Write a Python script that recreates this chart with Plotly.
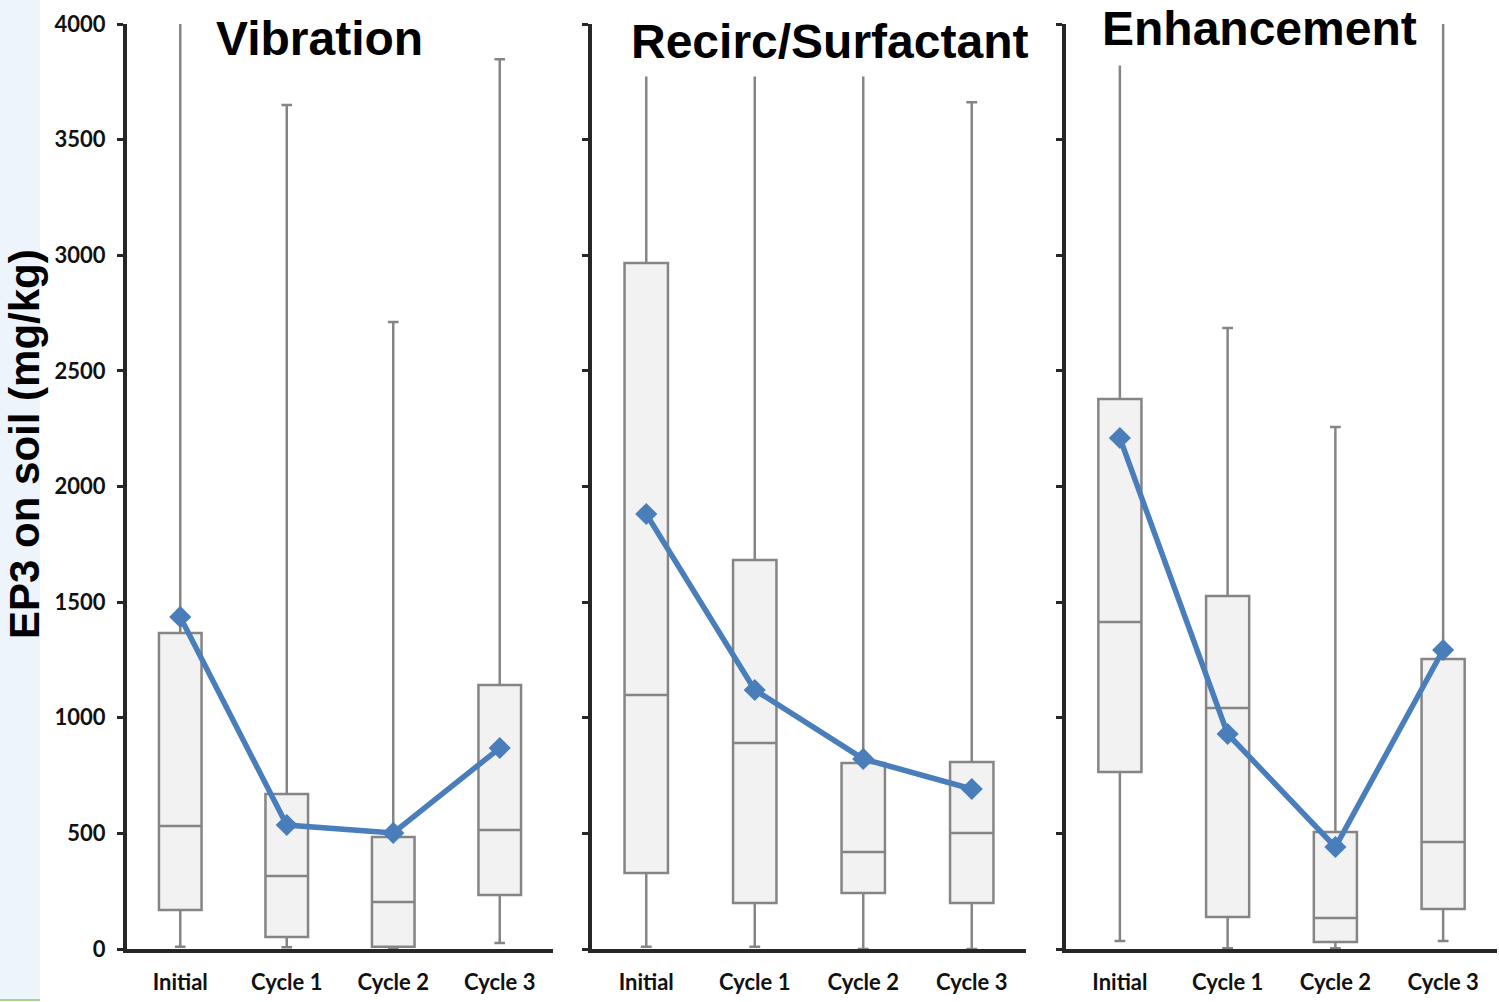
import plotly.graph_objects as go

categories = ["Initial", "Cycle 1", "Cycle 2", "Cycle 3"]
panel_titles = ["Vibration", "Recirc/Surfactant", "Enhancement"]

# Vibration
vib_min = [10, 8, 0, 26]
vib_q1 = [169, 52, 10, 233]
vib_median = [532, 316, 203, 515]
vib_q3 = [1366, 670, 484, 1142]
vib_max = [4150, 3650, 2711, 3848]
vib_mean = [1436, 536, 502, 869]

# Recirc/Surfactant
rec_min = [10, 10, 0, 0]
rec_q1 = [329, 199, 242, 199]
rec_median = [1098, 891, 419, 502]
rec_q3 = [2966, 1682, 804, 809]
rec_max = [3900, 3900, 3900, 3662]
rec_mean = [1881, 1120, 822, 692]

# Enhancement
enh_min = [35, 3, 3, 35]
enh_q1 = [765, 138, 30, 173]
enh_median = [1414, 1042, 134, 463]
enh_q3 = [2378, 1526, 506, 1254]
enh_max = [3900, 2685, 2257, 4150]
enh_mean = [2210, 930, 441, 1293]

y_ticks = [0, 500, 1000, 1500, 2000, 2500, 3000, 3500, 4000]

panels = [
    (vib_min, vib_q1, vib_median, vib_q3, vib_max, vib_mean),
    (rec_min, rec_q1, rec_median, rec_q3, rec_max, rec_mean),
    (enh_min, enh_q1, enh_median, enh_q3, enh_max, enh_mean),
]

BOX_LINE = "#858585"
BOX_FILL = "#f2f2f2"
MEAN_COLOR = "#4A7EBB"
AXIS_COLOR = "#262626"

fig = go.Figure()
for i, (mn, q1, med, q3, mx, mean) in enumerate(panels):
    suffix = "" if i == 0 else str(i + 1)
    fig.add_trace(go.Box(
        x=categories, q1=q1, median=med, q3=q3, lowerfence=mn, upperfence=mx,
        boxpoints=False, fillcolor=BOX_FILL, line=dict(color=BOX_LINE, width=2.5),
        whiskerwidth=0.25, width=0.4, showlegend=False,
        xaxis="x" + suffix, yaxis="y" + suffix,
    ))
    fig.add_trace(go.Scatter(
        x=categories, y=mean, mode="lines+markers",
        line=dict(color=MEAN_COLOR, width=5.5),
        marker=dict(symbol="diamond", size=17, color=MEAN_COLOR),
        showlegend=False, xaxis="x" + suffix, yaxis="y" + suffix,
    ))

W, H = 1499, 1002
ML, MR, MT, MB = 127, 2, 24, 53
PW = W - ML - MR
PH = H - MT - MB


def px_x(px):
    return (px - ML) / PW


def px_y(py):
    return (H - MB - py) / PH


domains = [
    [0, px_x(553)],
    [px_x(592), px_x(1026)],
    [px_x(1066), 1.0],
]

x_tick_font = dict(family="Lato, Carlito, Calibri, sans-serif", size=22, color="#111111", weight="bold")
y_tick_font = dict(family="Lato, Carlito, Calibri, sans-serif", size=22, color="#111111", weight="bold")

layout = dict(
    width=W, height=H,
    margin=dict(l=ML, r=MR, t=MT, b=MB, pad=0),
    paper_bgcolor="white", plot_bgcolor="white",
    showlegend=False,
)
for i in range(3):
    suffix = "" if i == 0 else str(i + 1)
    layout["xaxis" + suffix] = dict(
        domain=domains[i], anchor="y" + suffix, type="category",
        range=[-0.5, 3.5], showline=True, linecolor=AXIS_COLOR, linewidth=4,
        ticks="", showgrid=False, zeroline=False, tickfont=x_tick_font,
        ticklabelstandoff=11,
    )
    layout["yaxis" + suffix] = dict(
        domain=[0, 1], anchor="x" + suffix, range=[0, 4000],
        tickvals=y_ticks, showline=True, linecolor=AXIS_COLOR, linewidth=4,
        ticks="outside", ticklen=6, tickwidth=3, tickcolor=AXIS_COLOR,
        showgrid=False, zeroline=False, showticklabels=(i == 0),
        tickfont=y_tick_font, ticklabelstandoff=7,
    )
fig.update_layout(**layout)

title_font = dict(family="Liberation Sans, Arial, sans-serif", size=48, color="black", weight="bold")
title_pos = [(319, 39, 0), (829, 41, 8), (1259, 29, 10)]
for t, (cx, cy, pad) in zip(panel_titles, title_pos):
    fig.add_annotation(
        text=t, xref="paper", yref="paper", x=px_x(cx), y=px_y(cy),
        xanchor="center", yanchor="middle", showarrow=False, font=title_font,
        bgcolor="white" if pad else "rgba(0,0,0,0)", borderpad=pad,
    )

fig.add_annotation(
    text="EP3 on soil (mg/kg)", xref="paper", yref="paper",
    x=px_x(24), y=px_y(444), textangle=-90, showarrow=False,
    xanchor="center", yanchor="middle",
    font=dict(family="Liberation Sans, Arial, sans-serif", size=42, color="black", weight="bold"),
)

fig.add_shape(type="rect", xref="paper", yref="paper", layer="below",
              x0=px_x(0), x1=px_x(40), y0=px_y(H), y1=px_y(0),
              fillcolor="#eef4fb", line=dict(width=0))
fig.add_shape(type="line", xref="paper", yref="paper", layer="below",
              x0=px_x(0), x1=px_x(40), y0=px_y(1000), y1=px_y(1000),
              line=dict(color="#a9d18e", width=2))

fig.write_html("out.html")
